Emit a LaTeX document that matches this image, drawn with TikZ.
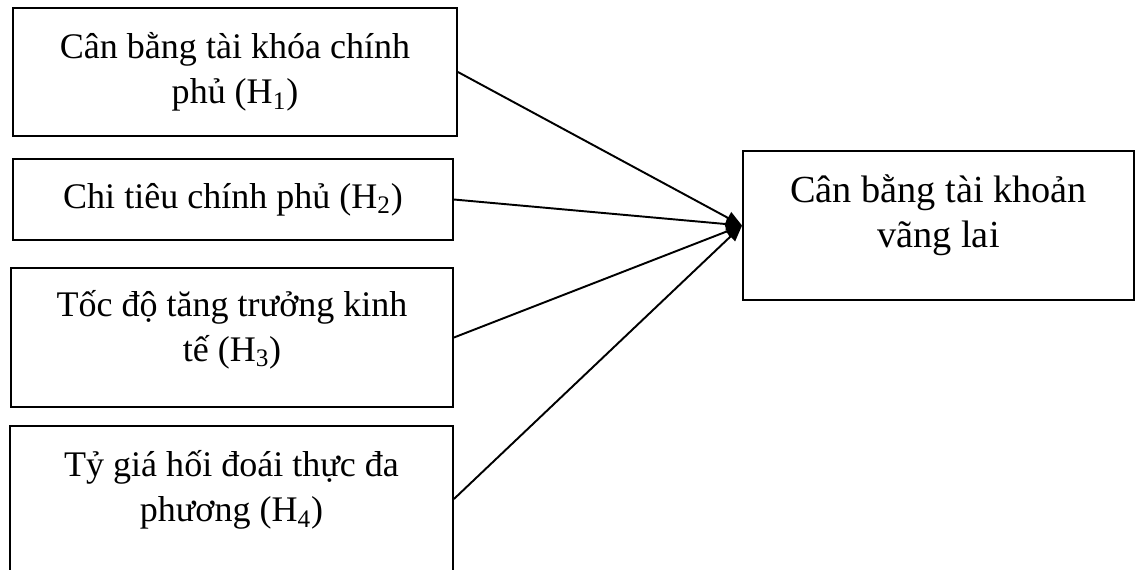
\documentclass[tikz,border=0pt]{standalone}
\usepackage{fontspec}
\setmainfont{Liberation Serif}
\usetikzlibrary{arrows.meta}

\begin{document}
\begin{tikzpicture}[x=0.02cm, y=-0.02cm,
    factor/.style={draw, line width=1.1pt, align=center, inner sep=0pt,
                   font=\fontsize{20.5}{25.6}\selectfont},
    link/.style={line width=1.1pt, -{Triangle[length=0.32cm, width=0.26cm]}}]
  \useasboundingbox (0,0) rectangle (1136,569);

  % cac bien doc lap
  \node[factor, minimum width=8.88cm, minimum height=2.56cm] (H1) at (235,72) {Cân bằng tài khóa chính\\phủ (H\textsubscript{1})};
  \node[factor, minimum width=8.8cm, minimum height=1.62cm] (H2) at (233,199.5) {Chi tiêu chính phủ (H\textsubscript{2})};
  \node[factor, minimum width=8.84cm, minimum height=2.78cm, text depth=13.4pt] (H3) at (232,337.5) {Tốc độ tăng trưởng kinh\\tế (H\textsubscript{3})};
  \node[factor, minimum width=8.86cm, minimum height=2.92cm, text depth=14.6pt] (H4) at (231.5,499) {Tỷ giá hối đoái thực đa\\phương (H\textsubscript{4})};

  % bien phu thuoc
  \node[factor, minimum width=7.82cm, minimum height=2.98cm, text depth=16.2pt,
        font=\fontsize{21.8}{25.6}\selectfont] (CA) at (938.5,225.5) {Cân bằng tài khoản\\vãng lai};

  \draw[link] (H1.east) -- (CA.west);
  \draw[link] (H2.east) -- (CA.west);
  \draw[link] (H3.east) -- (CA.west);
  \draw[link] (H4.east) -- (CA.west);
\end{tikzpicture}
\end{document}
